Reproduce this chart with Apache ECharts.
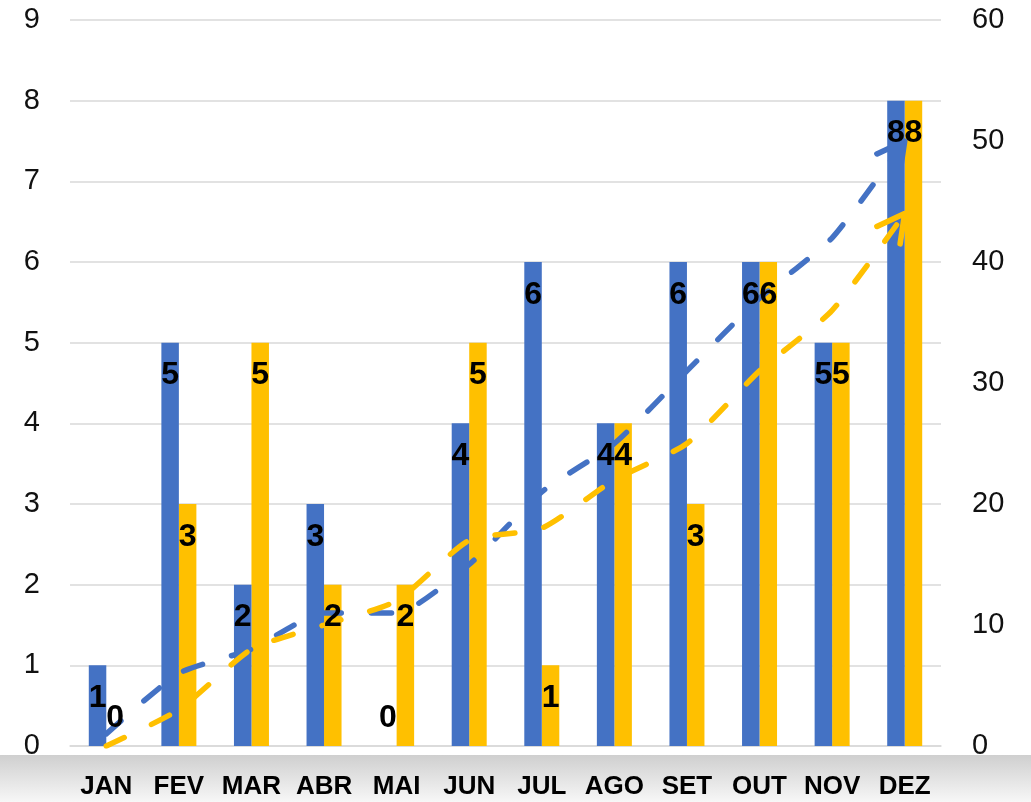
<!DOCTYPE html>
<html>
<head>
<meta charset="utf-8">
<script src="https://cdn.jsdelivr.net/npm/echarts@6/dist/echarts.min.js"></script>
<style>
html,body{margin:0;padding:0;background:#fff;}
#c{width:1031px;height:802px;}
</style>
</head>
<body>
<div id="c"></div>
<script>
// ---- data ----
var months = ['JAN','FEV','MAR','ABR','MAI','JUN','JUL','AGO','SET','OUT','NOV','DEZ'];
var blueValues = [1,5,2,3,0,4,6,4,6,6,5,8];
var yellowValues = [0,3,5,2,2,5,1,4,3,6,5,8];
var blueCumulative = [1,6,8,11,11,15,21,25,31,37,42,50];
var yellowCumulative = [0,3,8,10,12,17,18,22,25,31,36,44];
var leftTicks = {min:0, max:9, interval:1};
var rightTicks = {min:0, max:60, interval:10};

var BLUE = '#4472C4', YELLOW = '#FFC000';
var FONT = 'Liberation Sans';
var BW = 17.5;
var AH = 27, AW = 29; // arrow size

var chart = echarts.init(document.getElementById('c'), null, {renderer:'canvas'});

function labelData(arr){
  return arr.map(function(v){
    if (v === 0) return {value:v, label:{position:'insideBottom', distance:12}};
    return {value:v};
  });
}
function lineData(arr, color, arrow){
  return arr.map(function(v, i){
    if (i === arr.length-1 && arrow) {
      return {value:v, symbol:'path://M0,26 L14,0 L28,26', symbolSize:[AW,AH],
        symbolRotate: arrow.rotate, symbolOffset: arrow.offset,
        itemStyle:{color:'none', borderColor:color, borderWidth:5.5, borderCap:'round', borderJoin:'round'}};
    }
    return {value:v, symbol:'none'};
  });
}

var labelStyle = {show:true, position:'insideTop', distance:17, fontSize:32, fontWeight:'bold',
  color:'#000', fontFamily:FONT};

function buildOption(blueArrow, yellowArrow){
  return {
    animation:false,
    backgroundColor:'#fff',
    graphic:[{
      type:'rect', left:0, top:755, z:-10, silent:true,
      shape:{width:1031, height:47},
      style:{fill:new echarts.graphic.LinearGradient(0,0,0,1,[
        {offset:0, color:'#cfcfcf'},{offset:1, color:'#f7f7f7'}])}
    }],
    grid:{left:70, right:90, top:20, bottom:56, containLabel:false},
    xAxis:[{
      type:'category', data:months,
      axisLine:{lineStyle:{color:'#d9d9d9', width:1.5}},
      axisTick:{show:false},
      axisLabel:{fontSize:26, fontWeight:'bold', color:'#000', fontFamily:FONT, margin:28, interval:0}
    },{
      type:'category', data:months, show:false
    }],
    yAxis:[{
      type:'value', min:leftTicks.min, max:leftTicks.max, interval:leftTicks.interval,
      axisLine:{show:false}, axisTick:{show:false},
      splitLine:{lineStyle:{color:'#d9d9d9', width:1.5}},
      axisLabel:{fontSize:29, color:'#111', fontFamily:FONT, margin:30}
    },{
      type:'value', min:rightTicks.min, max:rightTicks.max, interval:rightTicks.interval,
      axisLine:{show:false}, axisTick:{show:false}, splitLine:{show:false},
      axisLabel:{fontSize:29, color:'#111', fontFamily:FONT, margin:31, align:'left'}
    }],
    series:[
      {type:'bar', name:'blue', data:blueValues, barWidth:BW, barGap:0, z:3,
        itemStyle:{color:BLUE}, emphasis:{disabled:true}},
      {type:'bar', name:'yellow', data:yellowValues, barWidth:BW, barGap:0, z:1,
        itemStyle:{color:YELLOW}, emphasis:{disabled:true}},
      {type:'line', name:'blueCum', yAxisIndex:1, data:lineData(blueCumulative, BLUE, blueArrow),
        z:2, smooth:0.2, color:BLUE, showSymbol:true, showAllSymbol:true,
        lineStyle:{color:BLUE, width:5.5, type:[20,30], cap:'round'}, emphasis:{disabled:true}},
      {type:'line', name:'yellowCum', yAxisIndex:1, data:lineData(yellowCumulative, YELLOW, yellowArrow),
        z:4, smooth:0.2, color:YELLOW, showSymbol:true, showAllSymbol:true,
        lineStyle:{color:YELLOW, width:5.5, type:[20,30], cap:'round'}, emphasis:{disabled:true}},
      {type:'bar', name:'blueLabels', xAxisIndex:1, data:labelData(blueValues), barWidth:BW, barGap:0, z:10,
        silent:true, itemStyle:{color:'rgba(0,0,0,0)'}, label:labelStyle},
      {type:'bar', name:'yellowLabels', xAxisIndex:1, data:labelData(yellowValues), barWidth:BW, barGap:0, z:10,
        silent:true, itemStyle:{color:'rgba(0,0,0,0)'}, label:labelStyle}
    ]
  };
}

chart.setOption(buildOption(null, null));

function arrowFor(cum){
  var n = cum.length;
  var p1 = chart.convertToPixel({xAxisIndex:0, yAxisIndex:1}, [months[n-2], cum[n-2]]);
  var p2 = chart.convertToPixel({xAxisIndex:0, yAxisIndex:1}, [months[n-1], cum[n-1]]);
  var dx = p2[0]-p1[0], dy = p2[1]-p1[1];
  var len = Math.sqrt(dx*dx+dy*dy);
  var ux = dx/len, uy = dy/len;
  var ang = Math.atan2(-dy, dx)*180/Math.PI;
  return {rotate: ang-90, offset:[-ux*AH/2, -uy*AH/2]};
}

chart.setOption(buildOption(arrowFor(blueCumulative), arrowFor(yellowCumulative)), true);
</script>
</body>
</html>
